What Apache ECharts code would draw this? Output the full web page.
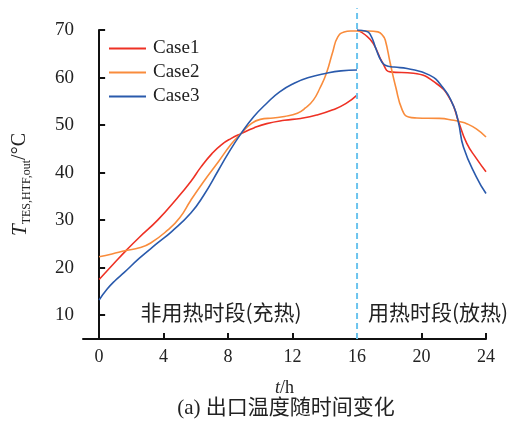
<!DOCTYPE html>
<html><head><meta charset="utf-8">
<script src="https://cdn.jsdelivr.net/npm/echarts@6/dist/echarts.min.js"></script>
<style>html,body{margin:0;padding:0;background:#fff}#c{width:517px;height:426px}</style>
</head><body><div id="c"></div>
<script>
const xTicks = [0, 4, 8, 12, 16, 20, 24];
const yTicks = [10, 20, 30, 40, 50, 60, 70];
const seriesNames = ['Case1', 'Case2', 'Case3'];
// charging period (0-16 h)
const case1ChargeT = [0, 1, 1.67, 2.5, 3.63, 4.76, 5.7, 6.3, 7.0, 7.6, 8.2, 8.8, 9.6, 10.4, 11.5, 12.5, 13.5, 14.5, 15.3, 16];
const case1ChargeV = [17.5, 21.2, 23.6, 26.4, 30, 34.3, 38.2, 41.1, 44.0, 45.9, 47.2, 48.2, 49.4, 50.3, 51.0, 51.4, 52.1, 53.2, 54.5, 56.3];
const case2ChargeT = [0, 0.8, 1.67, 2.5, 3.2, 4.25, 5, 5.69, 6.5, 7.4, 8.2, 8.8, 9.4, 10, 10.8, 11.5, 12.3, 12.8, 13.3, 13.7, 14.1, 14.5, 14.8, 15.2, 15.6, 16];
const case2ChargeV = [22.3, 22.9, 23.6, 24.2, 25.2, 27.9, 30.5, 34.2, 38.2, 42.3, 46, 48.2, 50.2, 51.2, 51.5, 51.8, 52.5, 53.6, 55.3, 57.8, 60.9, 65.5, 68.5, 69.6, 69.8, 69.8];
const case3ChargeT = [0, 0.5, 1, 1.56, 2.5, 3.63, 4.5, 5.69, 6.5, 7.4, 8, 8.8, 9.6, 10.4, 11.2, 12.1, 13, 14.1, 15, 16];
const case3ChargeV = [13.2, 15.5, 17.3, 19, 22, 25.2, 27.6, 31.5, 35.3, 40.5, 44, 48.2, 51.8, 54.6, 57, 58.8, 60, 60.9, 61.4, 61.6];
// discharging period (16-24 h)
const case1DischargeT = [16, 16.5, 17, 17.6, 18.06, 19.5, 20.9, 21.8, 22.3, 22.8, 23.4, 24];
const case1DischargeV = [70, 69, 67.2, 63, 61.2, 60.9, 58.8, 55.3, 50.7, 46.2, 43, 40.2];
const case2DischargeT = [16, 16.7, 17.3, 17.6, 17.75, 18.06, 18.4, 18.8, 19.2, 19.7, 21.1, 22, 22.4, 22.8, 23.4, 24];
const case2DischargeV = [69.8, 69.8, 69.6, 68.8, 67.9, 63, 58, 53.2, 51.7, 51.5, 51.4, 51, 50.7, 50.3, 49.2, 47.5];
const case3DischargeT = [16, 16.5, 16.8, 17.2, 17.5, 17.75, 18.3, 19.1, 20.5, 21.3, 22, 22.3, 22.6, 23.4, 24];
const case3DischargeV = [70, 69.8, 69.2, 65.8, 63.5, 62.6, 62.2, 61.9, 60.5, 58, 53.9, 50.4, 45.4, 39.1, 35.6];
const dividerT = 16;

const colors = ['#ee3124', '#f98c3c', '#2a5aac'];
const zip = (a, b) => a.map((v, i) => [v, b[i]]);
const segs = [
  [zip(case1ChargeT, case1ChargeV), zip(case1DischargeT, case1DischargeV)],
  [zip(case2ChargeT, case2ChargeV), zip(case2DischargeT, case2DischargeV)],
  [zip(case3ChargeT, case3ChargeV), zip(case3DischargeT, case3DischargeV)]
];
const serif = '"Liberation Serif", "Times New Roman", serif';
const series = [];
segs.forEach((pair, i) => {
  pair.forEach((d) => {
    series.push({
      type: 'line', name: seriesNames[i], data: d, symbol: 'none', showSymbol: false,
      smooth: 0.5,
      lineStyle: { color: colors[i], width: 1.6 }, itemStyle: { color: colors[i] },
      z: 3 + i
    });
  });
});

const textGraphics = [
  { type: 'text', x: 221, y: 312, style: { text: '非用热时段(充热)', font: '21px "Noto Sans CJK SC", serif', fill: '#222', align: 'center', verticalAlign: 'middle' } },
  { type: 'text', x: 438, y: 312, style: { text: '用热时段(放热)', font: '21px "Noto Sans CJK SC", serif', fill: '#222', align: 'center', verticalAlign: 'middle' } },
  { type: 'text', x: 286, y: 408, style: { text: '(a) 出口温度随时间变化', font: '21px "Liberation Serif", "Noto Sans CJK SC", serif', fill: '#222', align: 'center', verticalAlign: 'middle' } }
];

const chart = echarts.init(document.getElementById('c'));
chart.setOption({
  animation: false,
  grid: { left: 83, right: 31, top: 30, bottom: 87, containLabel: false },
  legend: {
    data: seriesNames, orient: 'vertical', left: 104, top: 34,
    icon: 'rect', itemWidth: 37, itemHeight: 2, itemGap: 5,
    textStyle: { fontFamily: serif, fontSize: 19, color: '#222', padding: [0, 0, 0, 2] }
  },
  xAxis: {
    type: 'value', min: -1, max: 24,
    name: '{i|t}{n|/h}', nameLocation: 'middle', nameGap: 40,
    nameTextStyle: { rich: { i: { fontFamily: serif, fontStyle: 'italic', fontSize: 18, color: '#222' }, n: { fontFamily: serif, fontSize: 18, color: '#222' } } },
    axisLine: { lineStyle: { color: '#111', width: 2 } },
    axisTick: { inside: true, length: 6, customValues: xTicks, lineStyle: { color: '#111', width: 2 } },
    axisLabel: { customValues: xTicks, margin: 9, fontFamily: serif, fontSize: 18, color: '#222' },
    splitLine: { show: false }
  },
  yAxis: {
    type: 'value', min: 5, max: 70,
    name: '{t|T}{s|TES,HTF,out}{u|/°C}', nameLocation: 'middle', nameGap: 50, nameRotate: 90,
    nameTextStyle: { rich: {
      t: { fontFamily: serif, fontStyle: 'italic', fontSize: 21, color: '#222', lineHeight: 26 },
      s: { fontFamily: serif, fontSize: 12, color: '#222', lineHeight: 14, verticalAlign: 'bottom', padding: [10, 0, 0, 0] },
      u: { fontFamily: serif, fontSize: 20, color: '#222', lineHeight: 26 }
    } },
    axisLine: { show: true, lineStyle: { color: '#111', width: 2 } },
    axisTick: { show: true, inside: true, length: 6, customValues: yTicks, lineStyle: { color: '#111', width: 2 } },
    axisLabel: { customValues: yTicks, margin: 9, fontFamily: serif, fontSize: 19, color: '#222' },
    splitLine: { show: false }
  },
  graphic: textGraphics,
  series: series
});

// dashed divider at t = 16 h, positioned through the chart's own scales
const pBottom = chart.convertToPixel({ gridIndex: 0 }, [dividerT, 5]);
const pTop = chart.convertToPixel({ gridIndex: 0 }, [dividerT, 74.6]);
chart.setOption({
  graphic: textGraphics.concat([{
    type: 'line', z: 10,
    shape: { x1: pBottom[0], y1: pBottom[1], x2: pTop[0], y2: pTop[1] },
    style: { stroke: '#6cc4ee', lineWidth: 2, lineDash: [6, 4] }
  }])
});
</script></body></html>
